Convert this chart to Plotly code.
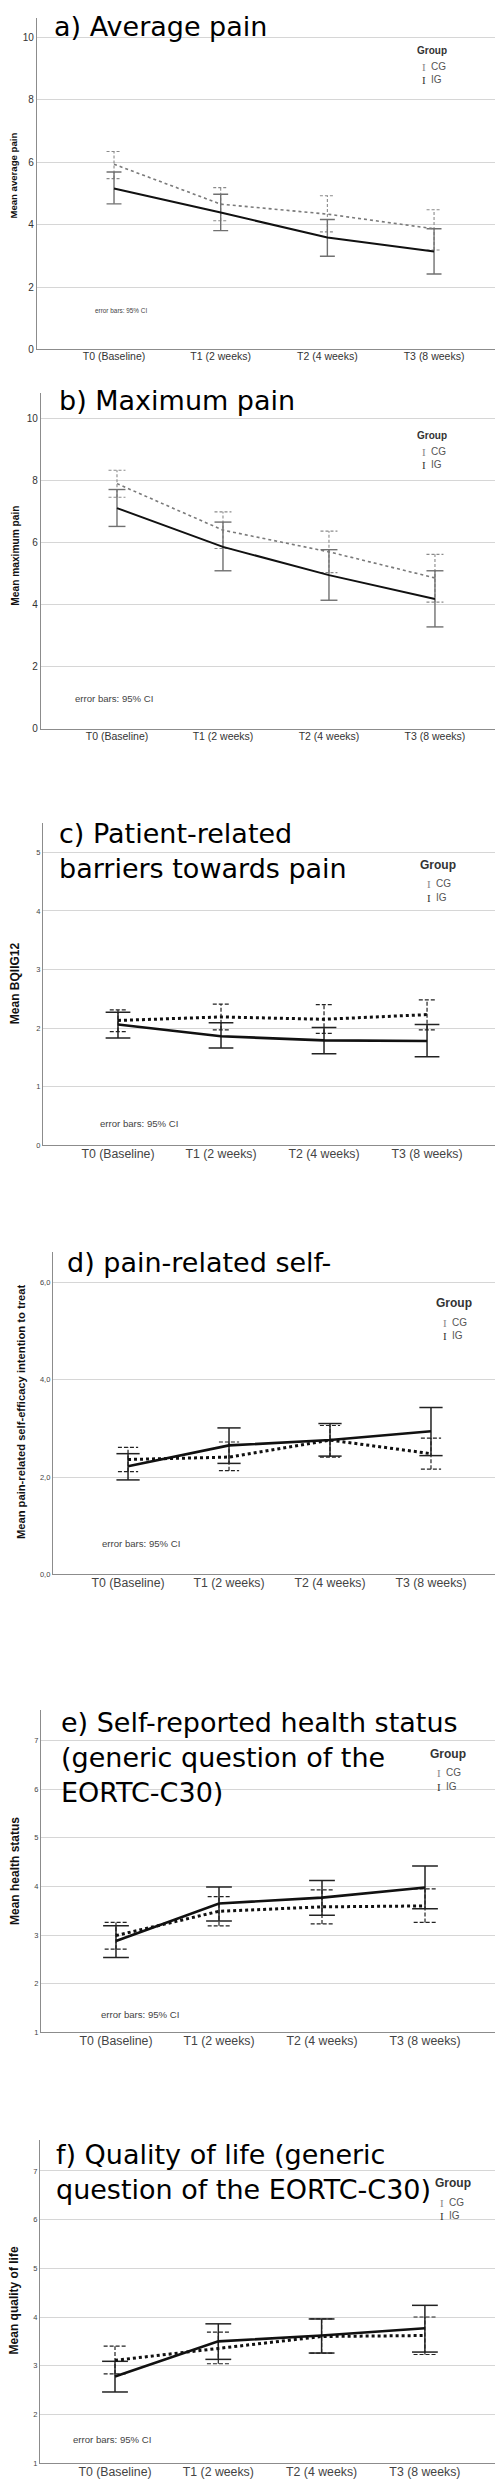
import plotly.graph_objects as go

W, H = 503, 2481

categories = ["T0 (Baseline)", "T1 (2 weeks)", "T2 (4 weeks)", "T3 (8 weeks)"]

# a) Average pain
a_cg_mean = [5.94, 4.66, 4.34, 3.87]
a_cg_lo = [5.48, 4.13, 3.77, 3.19]
a_cg_hi = [6.35, 5.19, 4.93, 4.48]
a_ig_mean = [5.16, 4.39, 3.59, 3.14]
a_ig_lo = [4.67, 3.81, 2.99, 2.42]
a_ig_hi = [5.69, 4.98, 4.17, 3.87]

# b) Maximum pain
b_cg_mean = [7.91, 6.41, 5.71, 4.87]
b_cg_lo = [7.47, 5.82, 5.04, 4.09]
b_cg_hi = [8.34, 7.00, 6.38, 5.63]
b_ig_mean = [7.12, 5.87, 4.96, 4.19]
b_ig_lo = [6.53, 5.10, 4.15, 3.29]
b_ig_hi = [7.72, 6.67, 5.78, 5.10]

# c) Barriers
c_cg_mean = [2.13, 2.19, 2.15, 2.23]
c_cg_lo = [1.94, 1.97, 1.91, 1.97]
c_cg_hi = [2.31, 2.41, 2.40, 2.48]
c_ig_mean = [2.06, 1.86, 1.79, 1.78]
c_ig_lo = [1.83, 1.66, 1.56, 1.51]
c_ig_hi = [2.27, 2.09, 2.01, 2.06]

# d) Self-efficacy
d_cg_mean = [2.36, 2.41, 2.76, 2.48]
d_cg_lo = [2.11, 2.13, 2.41, 2.16]
d_cg_hi = [2.61, 2.72, 3.06, 2.80]
d_ig_mean = [2.22, 2.65, 2.76, 2.94]
d_ig_lo = [1.94, 2.28, 2.43, 2.44]
d_ig_hi = [2.48, 3.01, 3.10, 3.43]

# e) Health status
e_cg_mean = [2.99, 3.49, 3.58, 3.60]
e_cg_lo = [2.71, 3.19, 3.23, 3.26]
e_cg_hi = [3.26, 3.79, 3.93, 3.95]
e_ig_mean = [2.88, 3.65, 3.77, 3.98]
e_ig_lo = [2.54, 3.29, 3.41, 3.54]
e_ig_hi = [3.19, 3.99, 4.12, 4.42]

# f) Quality of life
f_cg_mean = [3.11, 3.36, 3.60, 3.62]
f_cg_lo = [2.83, 3.04, 3.26, 3.23]
f_cg_hi = [3.40, 3.69, 3.96, 4.00]
f_ig_mean = [2.78, 3.50, 3.62, 3.77]
f_ig_lo = [2.46, 3.13, 3.26, 3.28]
f_ig_hi = [3.09, 3.86, 3.96, 4.24]

a_yticks = [0, 2, 4, 6, 8, 10]
c_yticks = [0, 1, 2, 3, 4, 5]
d_yticks = [0, 2, 4, 6]
d_yticklabels = ["0,0", "2,0", "4,0", "6,0"]
ef_yticks = [1, 2, 3, 4, 5, 6, 7]

TITLE_FONT = "DejaVu Sans"
AX_FONT = "Liberation Sans, Arial, sans-serif"

# layout specs (pixels)
panels = [
    dict(title="a) Average pain", ylab="Mean average pain",
         cg=(a_cg_mean, a_cg_lo, a_cg_hi), ig=(a_ig_mean, a_ig_lo, a_ig_hi),
         left=29, right=502, top=10, bottom=342.3, yr=[0, 10.63], xr=[-0.722, 3.712],
         yt=a_yticks, ytt=[str(v) for v in a_yticks], ytsize=10, xtsize=10.5,
         style="gray", capw=(0.07, 0.07),
         tx=45, ty=19, ylx=6, yly=168, ylsize=9.6,
         gx=424, gy=43, ix=416, cgy=59, igy=72, gsize=10, lsize=10,
         ebx=85, eby=303, ebsize=6.4),
    dict(title="b) Maximum pain", ylab="Mean maximum pain",
         cg=(b_cg_mean, b_cg_lo, b_cg_hi), ig=(b_ig_mean, b_ig_lo, b_ig_hi),
         left=33, right=502, top=386, bottom=722.7, yr=[0, 10.83], xr=[-0.717, 3.708],
         yt=a_yticks, ytt=[str(v) for v in a_yticks], ytsize=10, xtsize=10.5,
         style="gray", capw=(0.08, 0.08),
         tx=50, ty=393.5, ylx=8, yly=549, ylsize=10.2,
         gx=424, gy=429, ix=416, cgy=445, igy=458, gsize=10, lsize=10,
         ebx=65, eby=692, ebsize=9.6),
    dict(title="c) Patient-related<br>barriers towards pain", ylab="Mean BQIIG12",
         cg=(c_cg_mean, c_cg_lo, c_cg_hi), ig=(c_ig_mean, c_ig_lo, c_ig_hi),
         left=35, right=493, top=817, bottom=1140, yr=[0, 5.5], xr=[-0.728, 3.718],
         yt=c_yticks, ytt=[str(v) for v in c_yticks], ytsize=7.5, xtsize=12.3,
         style="black", capw=(0.08, 0.12),
         tx=50, ty=845, ylx=7, yly=977.5, ylsize=12,
         gx=430, gy=859, ix=421, cgy=878, igy=892, gsize=12, lsize=10,
         ebx=90, eby=1118, ebsize=9.6),
    dict(title="d) pain-related self-", ylab="Mean pain-related self-efficacy intention to treat",
         cg=(d_cg_mean, d_cg_lo, d_cg_hi), ig=(d_ig_mean, d_ig_lo, d_ig_hi),
         left=45, right=496, top=1247, bottom=1570, yr=[0, 6.63], xr=[-0.743, 3.723],
         yt=d_yticks, ytt=d_yticklabels, ytsize=7.5, xtsize=12.3,
         style="black", capw=(0.1, 0.115),
         tx=58, ty=1257.5, ylx=13, yly=1407.5, ylsize=11.2,
         gx=446, gy=1298, ix=437, cgy=1318, igy=1331, gsize=12, lsize=10,
         ebx=92, eby=1539, ebsize=9.6),
    dict(title="e) Self-reported health status<br>(generic question of the<br>EORTC-C30)",
         ylab="Mean health status",
         cg=(e_cg_mean, e_cg_lo, e_cg_hi), ig=(e_ig_mean, e_ig_lo, e_ig_hi),
         left=33, right=492, top=1706, bottom=2029.3, yr=[1, 7.63], xr=[-0.728, 3.728],
         yt=ef_yticks, ytt=[str(v) for v in ef_yticks], ytsize=7.5, xtsize=12.3,
         style="black", capw=(0.11, 0.125),
         tx=52, ty=1754, ylx=7, yly=1867.5, ylsize=12,
         gx=440, gy=1750, ix=431, cgy=1769, igy=1783, gsize=12, lsize=10,
         ebx=91, eby=2011, ebsize=9.6),
    dict(title="f) Quality of life (generic<br>question of the EORTC-C30)",
         ylab="Mean quality of life",
         cg=(f_cg_mean, f_cg_lo, f_cg_hi), ig=(f_ig_mean, f_ig_lo, f_ig_hi),
         left=32, right=492, top=2137, bottom=2461.0, yr=[1, 7.64], xr=[-0.726, 3.727],
         yt=ef_yticks, ytt=[str(v) for v in ef_yticks], ytsize=7.5, xtsize=12.3,
         style="black", capw=(0.11, 0.125),
         tx=47, ty=2169, ylx=6, yly=2298, ylsize=12,
         gx=445, gy=2180, ix=434, cgy=2200, igy=2213, gsize=12, lsize=10,
         ebx=63, eby=2437, ebsize=9.6),
]


def px(x):
    return x / W


def py(y):
    return 1 - y / H


def errbar_xy(lo, hi, half):
    xs, ys = [], []
    for i in range(len(lo)):
        xs += [i, i, None, i - half, i + half, None, i - half, i + half, None]
        ys += [lo[i], hi[i], None, hi[i], hi[i], None, lo[i], lo[i], None]
    return xs, ys


fig = go.Figure()
layout = dict(width=W, height=H, margin=dict(l=0, r=0, t=0, b=0),
              paper_bgcolor="white", plot_bgcolor="white", showlegend=False)
annotations = []
xidx = list(range(len(categories)))

for k, p in enumerate(panels):
    n = "" if k == 0 else str(k + 1)
    xa, ya = "x" + n, "y" + n
    gray = p["style"] == "gray"
    if gray:
        cg_line = dict(color="#7a7a7a", width=1.6, dash="dot")
        ig_line = dict(color="#111111", width=2)
        cg_eb = dict(color="#8a8a8a", width=1.1, dash="3px,2px")
        ig_eb = dict(color="#707070", width=1.4)
        tickcol = "#333333"
    else:
        cg_line = dict(color="#111111", width=3, dash="dot")
        ig_line = dict(color="#111111", width=2.6)
        cg_eb = dict(color="#222222", width=1.2, dash="4px,2px")
        ig_eb = dict(color="#222222", width=1.5)
        tickcol = "#444444"

    cgm, cgl, cgh = p["cg"]
    igm, igl, igh = p["ig"]
    ex, ey = errbar_xy(cgl, cgh, p["capw"][0])
    fig.add_trace(go.Scatter(x=ex, y=ey, mode="lines", line=cg_eb, xaxis=xa, yaxis=ya,
                             hoverinfo="skip", connectgaps=False))
    ex, ey = errbar_xy(igl, igh, p["capw"][1])
    fig.add_trace(go.Scatter(x=ex, y=ey, mode="lines", line=ig_eb, xaxis=xa, yaxis=ya,
                             hoverinfo="skip", connectgaps=False))
    fig.add_trace(go.Scatter(x=xidx, y=cgm, mode="lines", line=cg_line, xaxis=xa, yaxis=ya,
                             name="CG"))
    fig.add_trace(go.Scatter(x=xidx, y=igm, mode="lines", line=ig_line, xaxis=xa, yaxis=ya,
                             name="IG"))

    layout["xaxis" + n] = dict(
        domain=[px(p["left"]), px(p["right"])], anchor=ya, range=p["xr"],
        tickvals=xidx, ticktext=categories, showgrid=False, zeroline=False,
        showline=True, linecolor="#8c8c8c", linewidth=1.2, ticks="",
        ticklabelstandoff=-3,
        tickfont=dict(family=AX_FONT, size=p["xtsize"], color=tickcol), fixedrange=True)
    layout["yaxis" + n] = dict(
        domain=[py(p["bottom"]), py(p["top"])], anchor=xa, range=p["yr"],
        tickvals=p["yt"], ticktext=p["ytt"], showgrid=True, gridcolor="#d6d6d6",
        gridwidth=1.3, zeroline=False, showline=True, linecolor="#8c8c8c",
        linewidth=1.2, ticks="",
        tickfont=dict(family=AX_FONT, size=p["ytsize"], color=tickcol), fixedrange=True)

    # panel title
    annotations.append(dict(text=p["title"], x=px(p["tx"]), y=py(p["ty"]), xref="paper",
                            yref="paper", xanchor="left", yanchor="middle", align="left",
                            showarrow=False, borderpad=0,
                            font=dict(family=TITLE_FONT, size=27, color="black")))
    # y axis label
    annotations.append(dict(text="<b>" + p["ylab"] + "</b>", x=px(p["ylx"]), y=py(p["yly"]),
                            xref="paper", yref="paper", xanchor="center", yanchor="middle",
                            textangle=-90, showarrow=False,
                            font=dict(family=AX_FONT, size=p["ylsize"], color="#111111")))
    # legend
    annotations.append(dict(text="<b>Group</b>", x=px(p["gx"]), y=py(p["gy"]), xref="paper",
                            yref="paper", xanchor="center", yanchor="middle", showarrow=False,
                            font=dict(family=AX_FONT, size=p["gsize"], color="#333333")))
    for lab, yy, col in (("CG", p["cgy"], "#888888"), ("IG", p["igy"], "#333333")):
        annotations.append(dict(text="I", x=px(p["ix"]), y=py(yy), xref="paper",
                                yref="paper", xanchor="center", yanchor="middle",
                                showarrow=False,
                                font=dict(family="Liberation Serif", size=11, color=col)))
        annotations.append(dict(text=lab, x=px(p["ix"] + 5), y=py(yy), xref="paper",
                                yref="paper", xanchor="left", yanchor="middle",
                                showarrow=False,
                                font=dict(family=AX_FONT, size=p["lsize"], color="#555555")))
    # error bars note
    annotations.append(dict(text="error bars: 95% CI", x=px(p["ebx"]), y=py(p["eby"]),
                            xref="paper", yref="paper", xanchor="left", yanchor="middle",
                            showarrow=False,
                            font=dict(family=AX_FONT, size=p["ebsize"], color="#444444")))

layout["annotations"] = annotations
fig.update_layout(**layout)
fig.write_html("out.html")
